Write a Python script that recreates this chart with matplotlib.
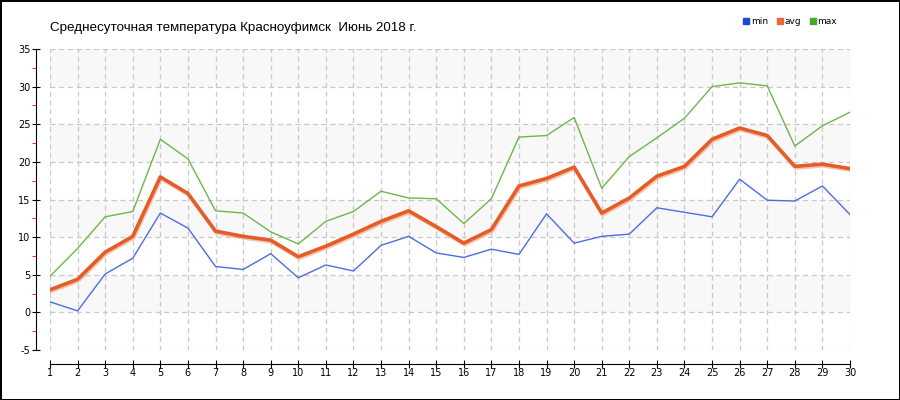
import matplotlib
matplotlib.use("Agg")
import matplotlib.pyplot as plt
import matplotlib.patheffects as pe
from matplotlib.lines import Line2D
from matplotlib.ticker import MultipleLocator

plt.rcParams["axes.unicode_minus"] = False

days = list(range(1, 31))
t_min = [1.4, 0.2, 5.1, 7.2, 13.2, 11.2, 6.1, 5.7, 7.8, 4.6,
         6.3, 5.5, 8.9, 10.1, 7.9, 7.3, 8.4, 7.7, 13.1, 9.2,
         10.1, 10.4, 13.9, 13.3, 12.7, 17.7, 14.9, 14.8, 16.8, 13.0]
t_avg = [3.0, 4.4, 8.0, 10.1, 18.0, 15.8, 10.8, 10.1, 9.6, 7.4,
         8.8, 10.4, 12.1, 13.5, 11.4, 9.2, 11.0, 16.8, 17.8, 19.3,
         13.2, 15.2, 18.1, 19.4, 23.0, 24.5, 23.5, 19.4, 19.7, 19.1]
t_max = [4.8, 8.5, 12.7, 13.4, 23.0, 20.4, 13.5, 13.2, 10.7, 9.1,
         12.1, 13.4, 16.1, 15.2, 15.1, 11.8, 15.1, 23.3, 23.5, 25.9,
         16.5, 20.7, 23.2, 25.8, 30.0, 30.5, 30.1, 22.1, 24.8, 26.6]
title = "Среднесуточная температура Красноуфимск  Июнь 2018 г."

fig = plt.figure(figsize=(9, 4), dpi=100)
fig.patch.set_edgecolor("black")
fig.patch.set_linewidth(2)
ax = fig.add_axes([50 / 900, 50 / 400, 800 / 900, 301 / 400])

# alternating background bands
for lo in range(-5, 35, 5):
    if (lo // 5) % 2 == 0:
        ax.axhspan(lo, lo + 5, color="#f8f8f8", zorder=0, lw=0)

ax.plot(days, t_min, color="#4a6ee0", lw=1, zorder=3)
ax.plot(days, t_max, color="#6cb848", lw=1, zorder=3)
ax.plot(days, t_avg, color="#e45c28", lw=2.6, zorder=4,
        path_effects=[pe.SimpleLineShadow(offset=(0.6, -1.2), shadow_color="#f4b898", alpha=0.8),
                      pe.Normal()])

ax.set_xlim(1, 30)
ax.set_ylim(-5, 35)
ax.set_xticks(days)
ax.yaxis.set_major_locator(MultipleLocator(5))
ax.yaxis.set_minor_locator(MultipleLocator(2.5))
ax.grid(True, which="major", color="#c8c8c8", ls=(0, (4, 3)), lw=0.9)

for s in ("top", "right"):
    ax.spines[s].set_visible(False)
ax.spines["left"].set_position(("outward", 10))
ax.spines["bottom"].set_position(("outward", 10))
ax.tick_params(axis="both", which="major", direction="inout", length=6,
               labelsize=7, pad=1, colors="black")
ax.tick_params(axis="y", which="minor", direction="out", length=3, color="red")
ax.tick_params(axis="x", pad=0)

fig.text(50 / 900, 1 - 28 / 400, title, fontsize=9.6, family="Liberation Sans", va="center")

handles = [Line2D([], [], ls="", marker="s", ms=5, color=c)
           for c in ("#2244dd", "#ee6633", "#44aa22")]
fig.legend(handles, ["min", "avg", "max"], loc="center right", ncol=3,
           bbox_to_anchor=(845 / 900, 1 - 22 / 400), frameon=False, fontsize=6.5,
           handletextpad=0.1, columnspacing=0.9, handlelength=0.8)

fig.savefig("out.png", dpi=100, edgecolor=fig.get_edgecolor())
